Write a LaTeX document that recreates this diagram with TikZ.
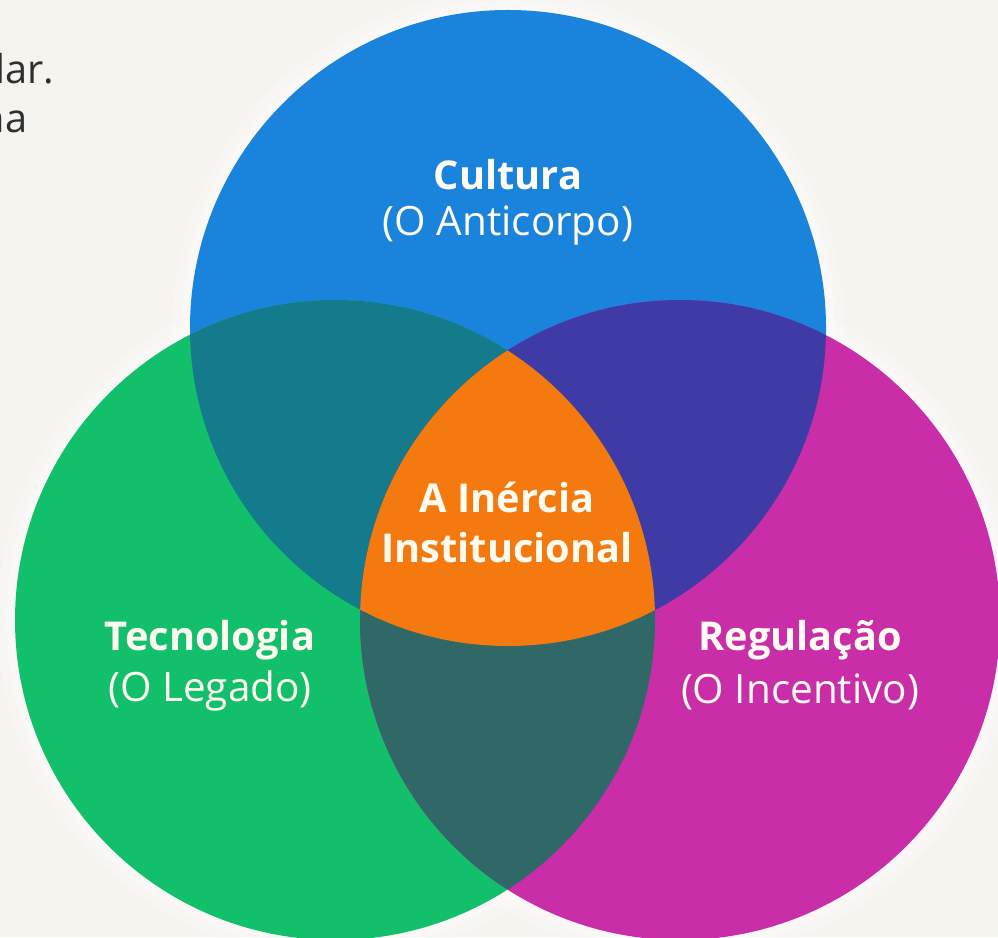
\documentclass[tikz,border=0pt]{standalone}
\usepackage{fontspec}
\setmainfont{Open Sans}
\begin{document}
\begin{tikzpicture}[x=0.01cm,y=-0.01cm]
\definecolor{bg}{HTML}{F6F4EF}
\definecolor{cblue}{HTML}{1A84DC}
\definecolor{cgreen}{HTML}{12C06B}
\definecolor{cmag}{HTML}{C92DA7}
\definecolor{cbg}{HTML}{137B8C}
\definecolor{cbm}{HTML}{3E3BA6}
\definecolor{cgm}{HTML}{306767}
\definecolor{corange}{HTML}{F47A10}
\definecolor{ctxt}{HTML}{FFFBF0}
\definecolor{cdark}{HTML}{2E2E2E}
\tikzset{
  title/.style={font=\fontsize{11.3}{13}\selectfont\bfseries, text=ctxt, inner sep=0pt},
  sub/.style={font=\fontsize{11.5}{13}\selectfont, text=ctxt, inner sep=0pt},
  side/.style={font=\fontsize{11.3}{13}\selectfont, text=cdark, inner sep=0pt, anchor=base east},
  glow/.style={draw=white, line width=#1, opacity=0.25}
}
\def\cA{(508,328) circle (318)}
\def\cB{(335,620) circle (320)}
\def\cC{(680,620) circle (320)}
\useasboundingbox (0,0) rectangle (998,937);
\fill[bg] (0,0) rectangle (998,937);
% soft glow
\foreach \w in {10,5}{
  \draw[glow=\w] \cA; \draw[glow=\w] \cB; \draw[glow=\w] \cC;
}
% base circles
\fill[cblue] \cA;
\fill[cgreen] \cB;
\fill[cmag] \cC;
% pairwise overlaps
\begin{scope}\clip \cA; \fill[cbg] \cB; \end{scope}
\begin{scope}\clip \cA; \fill[cbm] \cC; \end{scope}
\begin{scope}\clip \cB; \fill[cgm] \cC; \end{scope}
% triple overlap
\begin{scope}\clip \cA; \clip \cB; \fill[corange] \cC; \end{scope}
% labels
\node[title] (cultura) at (508,175) {Cultura};
\node[sub] (anticorpo) at (508,226) {(O Anticorpo)};
\node[title] (inercia) at (507,497) {A Inércia};
\node[title] (institucional) at (507,548) {Institucional};
\node[title] (tecnologia) at (210,640) {Tecnologia};
\node[sub] (legado) at (210,691) {(O Legado)};
\node[title] (regulacao) at (800,640) {Regulação};
\node[sub] (incentivo) at (800,692) {(O Incentivo)};
% cut-off side text (cropped at the left edge, as in the reference)
\node[side] (lar) at (55,84) {lar.};
\node[side] (na) at (28,133) {na};
\end{tikzpicture}
\end{document}
